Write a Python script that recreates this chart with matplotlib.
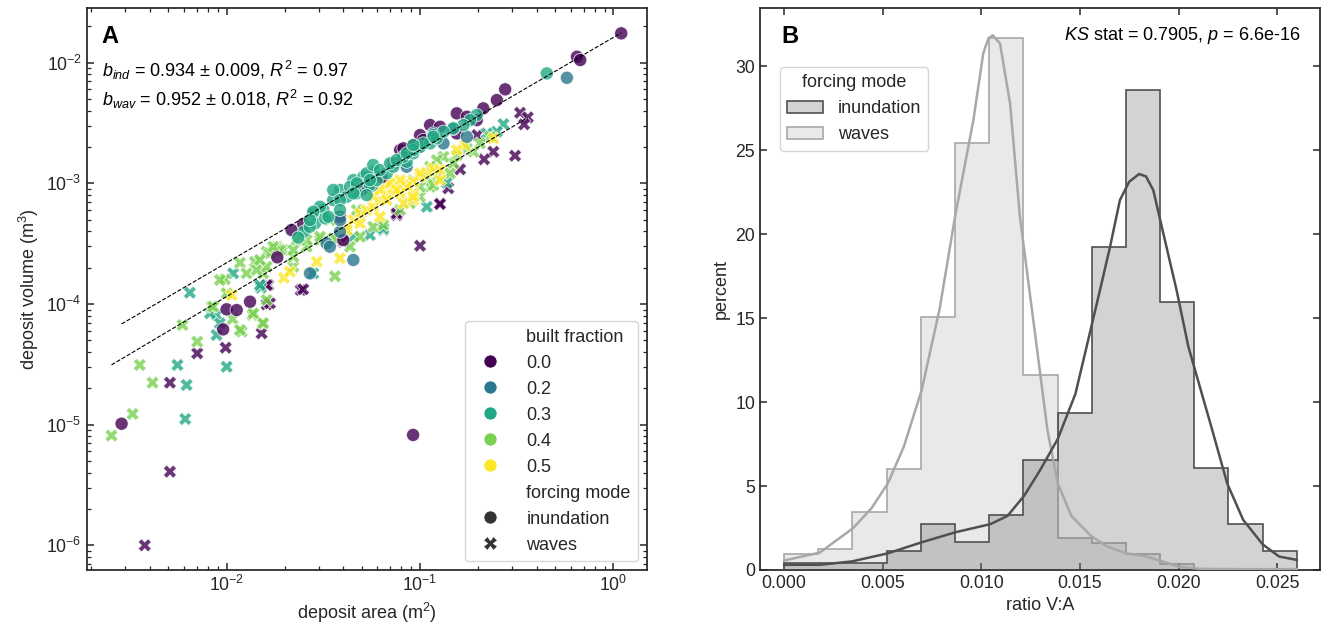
import matplotlib
matplotlib.use("Agg")
import matplotlib.pyplot as plt
from matplotlib.lines import Line2D
from matplotlib.patches import Patch
from matplotlib.colors import to_rgba
import numpy as np

plt.rcParams['font.family'] = ['Liberation Sans', 'DejaVu Sans']
plt.rcParams['mathtext.fontset'] = 'custom'
plt.rcParams['mathtext.rm'] = 'Liberation Sans'
plt.rcParams['mathtext.it'] = 'Liberation Sans:italic'
plt.rcParams['mathtext.bf'] = 'Liberation Sans:bold'
plt.rcParams['font.size'] = 13
plt.rcParams['text.color'] = '.15'
plt.rcParams['axes.labelcolor'] = '.15'
plt.rcParams['xtick.color'] = '.15'
plt.rcParams['ytick.color'] = '.15'

# ---------- panel A data: log10 area (m2), log10 volume (m3) per group ----------
# inundation, built fraction 0.0
ind00_a = [-2.543, -2.018, -2.000, -1.948, -1.879, -1.738, -1.036, -1.664, -1.604, -1.414,
           -1.397, -1.103, -1.086, -1.138, -0.948, -1.000, -1.035, 0.040, -0.189, -0.172,
           -0.560, -0.603, -0.673, -0.810, -0.758, -0.707, -0.897, -1.086, -0.983, -0.810,
           -1.300, -1.200]
ind00_v = [-4.992, -4.210, -4.044, -4.050, -3.981, -3.613, -5.085, -3.387, -3.337, -3.277,
           -3.470, -2.724, -2.793, -2.834, -2.517, -2.600, -2.683, -1.757, -1.951, -1.978,
           -2.221, -2.310, -2.379, -2.420, -2.448, -2.476, -2.531, -2.710, -2.641, -2.586,
           -3.050, -2.950]
# inundation, 0.2
ind02_a = [-0.241, -0.931, -1.414, -1.345, -1.569, -1.483, -0.931, -0.758, -0.879, -1.069,
           -1.000, -1.250, -0.830, -1.414, -1.466]
ind02_v = [-2.125, -2.586, -3.401, -3.635, -3.746, -3.497, -2.600, -2.614, -2.669, -2.862,
           -2.697, -3.020, -2.550, -3.304, -3.525]
# inundation, 0.3
ind03_a = [-0.345, -1.552, -1.543, -1.500, -1.491, -1.449, -1.414, -1.379, -1.345, -1.327,
           -1.293, -1.259, -1.242, -1.224, -1.276, -1.172, -1.138, -1.069, -1.035, -1.000,
           -0.948, -0.914, -0.707, -0.741, -0.776, -0.828, -0.879, -0.931, -0.983, -1.035,
           -1.086, -1.600, -1.630, -1.570,
           -1.449, -1.414, -1.362, -1.327, -1.276, -1.242, -1.207, -1.155, -1.517, -1.552,
           -1.569, -1.474, -1.414, -1.345, -1.259, -1.121, -1.069, -1.035]
ind03_v = [-2.089, -3.249, -3.331, -3.221, -3.290, -3.138, -3.055, -3.111, -2.973, -3.083,
           -2.945, -3.014, -2.904, -2.973, -3.097, -2.917, -2.862, -2.821, -2.751, -2.697,
           -2.669, -2.627, -2.434, -2.476, -2.517, -2.544, -2.572, -2.614, -2.669, -2.724,
           -2.780, -3.400, -3.450, -3.360,
           -3.055, -3.138, -3.028, -3.000, -2.917, -2.848, -2.890, -2.834, -3.194, -3.235,
           -3.304, -3.277, -3.221, -3.083, -2.973, -2.807, -2.751, -2.683]
# waves, 0.0
wav00_a = [-2.423, -2.293, -2.293, -2.152, -2.005, -1.819, -1.793, -1.785, -1.617, -1.000,
           -1.604, -1.121, -0.897, -1.397, -1.793, -1.776, -0.483, -0.443, -0.462, -0.509,
           -0.621, -0.669, -0.704, -0.793, -0.897, -0.854, -1.121]
wav00_v = [-6.000, -5.389, -4.652, -4.409, -4.362, -4.243, -4.003, -3.843, -3.884, -3.517,
           -3.878, -3.263, -3.166, -3.484, -3.843, -3.994, -2.415, -2.453, -2.511, -2.771,
           -2.738, -2.801, -2.600, -2.884, -3.172, -3.041, -3.249]
# waves, 0.3
wav03_a = [-2.214, -2.254, -2.207, -2.190, -2.052, -2.000, -2.052, -1.823, -1.966, -1.552,
           -0.965, -1.190, -1.259, -1.345, -1.828, -2.035, -2.086, -0.569, -0.603, -0.862,
           -0.655, -1.190]
wav03_v = [-4.953, -4.505, -4.671, -3.906, -4.257, -4.520, -4.091, -3.865, -3.746, -3.746,
           -3.194, -3.387, -3.428, -3.442, -3.843, -4.160, -4.077, -2.509, -2.572, -2.995,
           -2.586, -3.373]
# waves, 0.4
wav04_a = [-2.595, -2.486, -2.449, -2.383, -2.228, -2.152, -1.922, -1.814, -1.866, -1.969,
           -2.078, -2.009, -1.931, -1.854, -1.793, -1.741, -1.655, -1.811, -1.897, -1.845,
           -1.793, -1.741, -1.707, -1.638, -1.586, -1.517, -1.449, -1.362, -1.310, -1.242,
           -1.190, -1.103, -1.052, -1.000, -0.948, -0.914, -2.035, -2.069, -2.000, -1.811,
           -1.862, -1.931, -1.793, -1.655, -1.569, -1.327, -1.035, -0.638, -0.690, -0.724,
           -0.758, -0.810, -0.828, -0.845, -0.879, -0.914, -0.948, -0.965, -1.000, -0.931,
           -1.440,
           -1.466, -1.517, -1.586, -1.655, -1.724, -1.776, -1.828, -1.431, -1.621, -1.759]
wav04_v = [-5.090, -4.911, -4.505, -4.652, -4.174, -4.312, -4.229, -4.155, -4.091, -4.124,
           -4.022, -3.795, -3.658, -3.650, -3.567, -3.525, -3.691, -3.746, -3.746, -3.718,
           -3.691, -3.539, -3.553, -3.470, -3.525, -3.470, -3.456, -3.525, -3.442, -3.360,
           -3.345, -3.221, -3.166, -3.111, -3.028, -2.945, -3.801, -4.022, -3.911, -4.160,
           -4.077, -4.215, -3.967, -3.608, -3.304, -3.221, -2.973, -2.614, -2.669, -2.738,
           -2.710, -2.766, -2.834, -2.917, -2.780, -2.807, -2.862, -2.945, -3.028, -3.014,
           -3.770,
           -3.304, -3.442, -3.470, -3.553, -3.553, -3.580, -3.635, -3.470, -3.442, -3.525]
# waves, 0.5
wav05_a = [-1.974, -1.704, -1.673, -1.534, -1.414, -1.379, -1.345, -1.310, -1.276, -1.242,
           -1.207, -1.172, -1.138, -1.103, -1.069, -1.035, -1.000, -0.965, -0.931, -0.897,
           -1.172, -1.242, -1.207, -0.621, -0.767, -0.810, -0.897, -1.000, -1.035, -1.069,
           -1.103, -1.035, -1.086,
           -1.207, -1.155, -1.103, -1.035, -1.310, -1.379, -1.172, -1.121]
wav05_v = [-3.925, -3.783, -3.732, -3.650, -3.621, -3.360, -3.304, -3.249, -3.221, -3.194,
           -3.138, -3.083, -3.041, -3.056, -3.000, -3.083, -2.945, -2.904, -2.876, -2.890,
           -3.000, -3.111, -3.277, -2.627, -2.683, -2.724, -2.973, -2.917, -2.987, -3.028,
           -3.083, -3.138, -3.166,
           -3.055, -3.000, -2.973, -3.111, -3.331, -3.387, -3.138, -3.055]

# power-law fits V = 10**a * A**b
b_ind, a_ind = 0.934, -1.790
b_wav, a_wav = 0.952, -2.034
fractions = [0.0, 0.2, 0.3, 0.4, 0.5]

# ---------- panel B data: percent per bin of V:A ----------
bin_edges = [0.0, 0.00173, 0.00347, 0.0052, 0.00693, 0.00867, 0.0104, 0.01213,
             0.01387, 0.0156, 0.01733, 0.01907, 0.0208, 0.02253, 0.02427, 0.026]
pct_ind = [0.44, 0.44, 0.44, 1.11, 2.76, 1.67, 3.29, 6.58, 9.36, 19.26, 28.6,
           15.97, 6.05, 2.76, 1.11]
pct_wav = [0.97, 1.28, 3.46, 6.0, 15.1, 25.43, 31.67, 11.61, 1.89, 1.6, 0.97,
           0.34, 0.0, 0.0, 0.0]

kde_x_ind = [0.0, 0.00182, 0.00344, 0.00526, 0.00698, 0.0087, 0.01046, 0.01133,
             0.01218, 0.01295, 0.01388, 0.01477, 0.01534, 0.01602, 0.01653, 0.01703,
             0.0175, 0.0180, 0.01835, 0.01872, 0.01923, 0.0199, 0.0205, 0.02166,
             0.02247, 0.02328, 0.02427, 0.0251, 0.026]
kde_y_ind = [0.31, 0.31, 0.51, 0.99, 1.65, 2.25, 2.73, 3.22, 4.43, 5.88, 7.81, 10.48,
             13.3, 16.68, 19.26, 22.04, 23.13, 23.59, 23.45, 22.63, 20.05, 16.68, 13.3,
             8.54, 5.15, 2.98, 1.52, 0.80, 0.60]
kde_x_wav = [0.0, 0.00182, 0.0035, 0.00445, 0.00526, 0.00607, 0.00698, 0.00789,
             0.00867, 0.0096, 0.0101, 0.01036, 0.01058, 0.01095, 0.01146, 0.01196,
             0.01275, 0.01336, 0.01388, 0.01457, 0.01558, 0.01639, 0.01733, 0.01822,
             0.01907, 0.02004, 0.02105, 0.02307, 0.026]
kde_y_wav = [0.56, 1.04, 2.49, 3.70, 5.15, 7.33, 10.72, 15.56, 21.04, 26.8, 30.77,
             31.67, 31.86, 31.37, 27.8, 21.04, 13.86, 8.3, 5.15, 3.22, 2.01, 1.40, 0.99,
             0.85, 0.56, 0.19, 0.07, 0.05, 0.05]

col_ind = '#505050'
col_wav = '#a8a8a8'

fig = plt.figure(figsize=(13.25, 6.37), dpi=100)
axA = fig.add_axes([0.0654, 0.1052, 0.4229, 0.8817])
axB = fig.add_axes([0.5736, 0.1052, 0.4226, 0.8817])

for ax in (axA, axB):
    for sp in ax.spines.values():
        sp.set_linewidth(1.25)
        sp.set_color('.15')

# ---------- panel A ----------
ind_groups = [(0.0, ind00_a, ind00_v), (0.2, ind02_a, ind02_v), (0.3, ind03_a, ind03_v)]
wav_groups = [(0.0, wav00_a, wav00_v), (0.3, wav03_a, wav03_v),
              (0.4, wav04_a, wav04_v), (0.5, wav05_a, wav05_v)]


def stack(groups):
    a = np.concatenate([g[1] for g in groups])
    v = np.concatenate([g[2] for g in groups])
    f = np.concatenate([[g[0]] * len(g[1]) for g in groups])
    return 10 ** a, 10 ** v, f


area_ind, vol_ind, frac_ind = stack(ind_groups)
area_wav, vol_wav, frac_wav = stack(wav_groups)

axA.scatter(area_wav, vol_wav, c=frac_wav, cmap='viridis', vmin=0, vmax=0.5,
            marker='X', s=90, alpha=0.8, edgecolors='white', linewidths=0.6, zorder=2)
axA.scatter(area_ind, vol_ind, c=frac_ind, cmap='viridis', vmin=0, vmax=0.5,
            marker='o', s=90, alpha=0.8, edgecolors='white', linewidths=0.6, zorder=2)

xi = np.array([area_ind.min(), area_ind.max()])
axA.plot(xi, 10 ** a_ind * xi ** b_ind, color='k', ls='--', lw=0.8, zorder=3)
xw = np.array([area_wav.min(), area_wav.max()])
axA.plot(xw, 10 ** a_wav * xw ** b_wav, color='k', ls='--', lw=0.8, zorder=3)

axA.set_xscale('log')
axA.set_yscale('log')
axA.set_xlim(1.89e-3, 1.49)
axA.set_ylim(6.25e-7, 2.82e-2)
axA.set_xlabel('deposit area (m$^2$)', fontsize=13)
axA.set_ylabel('deposit volume (m$^3$)', fontsize=13)
axA.tick_params(which='both', direction='in', top=True, right=True, labelsize=12.7)
axA.tick_params(which='major', length=5, width=1.1)
axA.tick_params(which='minor', length=3, width=0.9)

axA.text(0.027, 0.95, 'A', transform=axA.transAxes, fontsize=17, fontweight='bold',
         va='center', ha='left', color='k')
axA.text(0.027, 0.889, r'$b_{ind}$ = 0.934 $\pm$ 0.009, $R^2$ = 0.97',
         transform=axA.transAxes, fontsize=13, va='center', ha='left', color='k')
axA.text(0.027, 0.8385, r'$b_{wav}$ = 0.952 $\pm$ 0.018, $R^2$ = 0.92',
         transform=axA.transAxes, fontsize=13, va='center', ha='left', color='k')

cmap = plt.get_cmap('viridis')
handles = [Line2D([], [], ls='none', label='built fraction')]
for f in fractions:
    handles.append(Line2D([], [], ls='none', marker='o', markersize=9.5,
                          markerfacecolor=cmap(f / 0.5), markeredgecolor='white',
                          markeredgewidth=0.6, label=f'{f:.1f}'))
handles.append(Line2D([], [], ls='none', label='forcing mode'))
handles.append(Line2D([], [], ls='none', marker='o', markersize=9.5, markerfacecolor='.2',
                      markeredgecolor='white', markeredgewidth=0.6, label='inundation'))
handles.append(Line2D([], [], ls='none', marker='X', markersize=9.5, markerfacecolor='.2',
                      markeredgecolor='white', markeredgewidth=0.6, label='waves'))
axA.legend(handles=handles, loc='lower right', fontsize=13, frameon=True,
           framealpha=0.8, edgecolor='0.8', labelspacing=0.5, handletextpad=1.0,
           borderaxespad=0.5)

# ---------- panel B ----------
axB.stairs(pct_wav, bin_edges, fill=True, facecolor=to_rgba(col_wav, 0.25),
           edgecolor=col_wav, lw=1.2, zorder=2)
axB.stairs(pct_ind, bin_edges, fill=True, facecolor=to_rgba(col_ind, 0.25),
           edgecolor=col_ind, lw=1.2, zorder=3)
axB.plot(kde_x_wav, kde_y_wav, color=col_wav, lw=1.8, zorder=4, solid_capstyle='round',
         solid_joinstyle='round')
axB.plot(kde_x_ind, kde_y_ind, color=col_ind, lw=1.8, zorder=5, solid_capstyle='round',
         solid_joinstyle='round')

axB.set_xlim(-0.001215, 0.02717)
axB.set_ylim(0, 33.46)
axB.set_xticks([0.0, 0.005, 0.01, 0.015, 0.02, 0.025])
axB.set_xticklabels(['0.000', '0.005', '0.010', '0.015', '0.020', '0.025'])
axB.set_yticks([0, 5, 10, 15, 20, 25, 30])
axB.set_xlabel('ratio V:A', fontsize=13)
axB.set_ylabel('percent', fontsize=13)
axB.tick_params(which='both', direction='in', top=True, right=True, labelsize=12.7,
                length=5, width=1.1)

axB.text(0.039, 0.95, 'B', transform=axB.transAxes, fontsize=17, fontweight='bold',
         va='center', ha='left', color='k')
axB.text(0.966, 0.951, r'$KS$ stat = 0.7905, $p$ = 6.6e-16', transform=axB.transAxes,
         fontsize=13, va='center', ha='right', color='k')

hB = [Patch(facecolor=to_rgba(col_ind, 0.25), edgecolor=col_ind, lw=1.2, label='inundation'),
      Patch(facecolor=to_rgba(col_wav, 0.25), edgecolor=col_wav, lw=1.2, label='waves')]
axB.legend(handles=hB, title='forcing mode', loc='upper left',
           bbox_to_anchor=(0.0357, 0.8955), borderaxespad=0, fontsize=13,
           title_fontsize=13, frameon=True, framealpha=0.8, edgecolor='0.8')

fig.savefig('out.png', dpi=100)
